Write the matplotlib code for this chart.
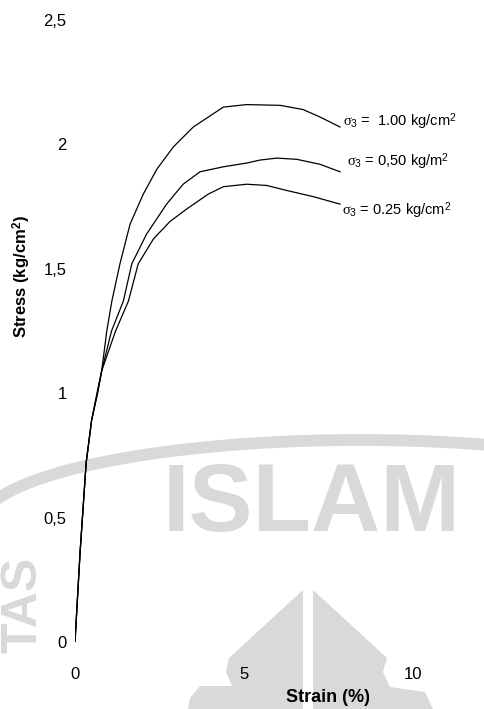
import numpy as np
import matplotlib
matplotlib.use("Agg")
import matplotlib.pyplot as plt
from matplotlib.patches import Polygon

plt.rcParams['font.family'] = ['Liberation Sans', 'DejaVu Sans']
plt.rcParams['mathtext.fontset'] = 'custom'
plt.rcParams['mathtext.rm'] = 'Liberation Sans'
plt.rcParams['mathtext.it'] = 'Liberation Serif'
plt.rcParams['mathtext.bf'] = 'Liberation Sans:bold'

# data: strain (%) and stress (kg/cm2)
strain_100 = [0, 0.15, 0.33, 0.49, 0.65, 0.79, 0.94, 1.09, 1.33, 1.63, 2.02, 2.42, 2.91,
              3.5, 4.39, 5.08, 6.07, 6.75, 7.25, 7.84]
stress_100 = [0, 0.36, 0.72, 0.89, 1.0, 1.09, 1.25, 1.37, 1.52, 1.68, 1.80, 1.90, 1.99,
              2.07, 2.15, 2.16, 2.157, 2.14, 2.11, 2.07]

strain_050 = [0, 0.15, 0.33, 0.49, 0.66, 0.79, 1.08, 1.43, 1.68, 2.12, 2.71, 3.2, 3.7,
              4.39, 5.08, 5.47, 5.97, 6.56, 7.25, 7.84]
stress_050 = [0, 0.36, 0.72, 0.89, 1.0, 1.09, 1.25, 1.37, 1.52, 1.64, 1.76, 1.84, 1.89,
              1.91, 1.925, 1.937, 1.945, 1.94, 1.92, 1.89]

strain_025 = [0, 0.15, 0.33, 0.49, 0.67, 0.79, 1.2, 1.58, 1.87, 2.32, 2.81, 3.3, 3.94,
              4.39, 5.08, 5.67, 6.26, 7.05, 7.84]
stress_025 = [0, 0.36, 0.72, 0.89, 1.0, 1.09, 1.25, 1.37, 1.52, 1.62, 1.69, 1.74, 1.80,
              1.83, 1.84, 1.835, 1.815, 1.79, 1.76]

labels = [r'$\sigma_3$ =  1.00 kg/cm$^2$', r'$\sigma_3$ = 0,50 kg/m$^2$', r'$\sigma_3$ = 0.25 kg/cm$^2$']
label_x = [7.93, 8.05, 7.9]
label_y = [2.09, 1.93, 1.735]

yticks = [0, 0.5, 1, 1.5, 2, 2.5]
yticklabels = ['0', '0,5', '1', '1,5', '2', '2,5']
xticks = [0, 5, 10]

W, H = 485, 709
fig = plt.figure(figsize=(4.85, 7.09), dpi=100)

def px(pts):
    # pixel coords (from top-left) -> figure fraction
    return [(x / W, 1 - y / H) for x, y in pts]

# faint watermark from the scanned page (kept behind the axes)
wm = '#d9d9d9'
fig.text(312 / W, 1 - 506 / H, 'ISLAM', fontsize=69, color=wm, ha='center', va='center',
         fontweight='bold', zorder=-1)
fig.text(24 / W, 1 - 605 / H, 'TAS', fontsize=36, color=wm, ha='center', va='center',
         rotation=90, fontweight='bold', zorder=-1)
t = np.linspace(np.pi, 0.05 * np.pi, 120)
arc_x = 360 + 380 * np.cos(t)
arc_y = 440 + 84 - 84 * np.sin(t)
fig.lines.append(plt.Line2D(arc_x / W, 1 - arc_y / H, transform=fig.transFigure,
                            color=wm, lw=8.5, zorder=-1))
left_shape = [(303, 590), (229, 658), (226, 672), (232, 686), (200, 686), (190, 698),
              (188, 709), (303, 709)]
right_shape = [(313, 590), (387, 658), (383, 672), (390, 687), (425, 692), (433, 709),
               (313, 709)]
for shp in (left_shape, right_shape):
    fig.patches.append(Polygon(px(shp), closed=True, transform=fig.transFigure,
                               facecolor=wm, edgecolor='none', zorder=-1))

ax = fig.add_axes([75 / W, 67 / H, 405.6 / W, 622 / H])
ax.patch.set_alpha(0)
ax.plot(strain_100, stress_100, color='black', lw=0.9)
ax.plot(strain_050, stress_050, color='black', lw=0.9)
ax.plot(strain_025, stress_025, color='black', lw=0.9)

for lab, lx, ly in zip(labels, label_x, label_y):
    ax.text(lx, ly, lab, fontsize=10.5, va='center', ha='left')

ax.set_xlim(0, 12)
ax.set_ylim(0, 2.5)
ax.set_yticks(yticks)
ax.set_yticklabels(yticklabels)
ax.set_xticks(xticks)
for s in ax.spines.values():
    s.set_visible(False)
ax.tick_params(axis='y', length=0, pad=6, labelsize=12)
ax.tick_params(axis='x', length=0, pad=18, labelsize=12)

fig.text(22 / W, 1 - 277 / H, 'Stress (kg/cm$^\\mathbf{2}$)', rotation=90,
         fontsize=12, fontweight='bold', ha='center', va='center')
fig.text(328 / W, 1 - 698 / H, 'Strain (%)', fontsize=13, fontweight='bold',
         ha='center', va='center')

fig.savefig('out.png', dpi=100)
